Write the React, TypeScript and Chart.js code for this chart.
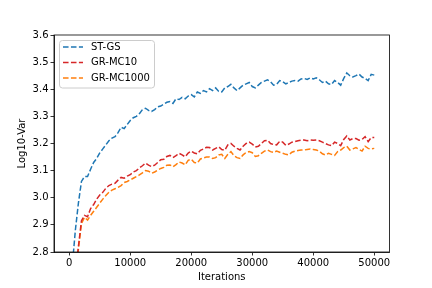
import React, { useEffect, useRef } from "react";
import { Chart, registerables } from "chart.js";

Chart.register(...registerables);

const iterations: number[] = Array.from({ length: 101 }, (_, i) => i * 500);

const stgs: number[] = [
  2.5, 2.75, 2.88, 2.98, 3.06, 3.078, 3.078, 3.105, 3.13, 3.145,
  3.165, 3.18, 3.195, 3.21, 3.22, 3.225, 3.24, 3.26, 3.255, 3.27,
  3.285, 3.295, 3.3, 3.31, 3.325, 3.33, 3.322, 3.318, 3.325, 3.335,
  3.338, 3.345, 3.352, 3.355, 3.348, 3.365, 3.362, 3.37, 3.365, 3.375,
  3.38, 3.372, 3.39, 3.385, 3.395, 3.39, 3.402, 3.395, 3.405, 3.392,
  3.39, 3.405, 3.41, 3.418, 3.405, 3.395, 3.405, 3.415, 3.42, 3.425,
  3.41, 3.405, 3.415, 3.425, 3.43, 3.435, 3.428, 3.415, 3.418, 3.432,
  3.428, 3.42, 3.425, 3.43, 3.432, 3.43, 3.438, 3.44, 3.436, 3.442,
  3.438, 3.442, 3.435, 3.425, 3.43, 3.42, 3.418, 3.432, 3.425, 3.415,
  3.44, 3.46, 3.45, 3.445, 3.45, 3.456, 3.445, 3.44, 3.432, 3.455,
  3.452,
];

const grmc10: number[] = [
  2.5, 2.6, 2.72, 2.82, 2.915, 2.935, 2.93, 2.96, 2.975, 2.995,
  3.01, 3.02, 3.035, 3.045, 3.05, 3.053, 3.065, 3.075, 3.072, 3.08,
  3.085, 3.095, 3.1, 3.11, 3.118, 3.128, 3.12, 3.115, 3.12, 3.13,
  3.14, 3.142, 3.152, 3.156, 3.148, 3.155, 3.164, 3.158, 3.151, 3.165,
  3.172, 3.165, 3.162, 3.175, 3.18, 3.186, 3.185, 3.176, 3.182, 3.188,
  3.178, 3.175, 3.195, 3.2, 3.19, 3.182, 3.176, 3.19, 3.2, 3.205,
  3.198, 3.187, 3.19, 3.2, 3.21, 3.212, 3.2, 3.196, 3.195, 3.208,
  3.205, 3.193, 3.198, 3.205, 3.207, 3.21, 3.212, 3.213, 3.21, 3.213,
  3.212, 3.213, 3.21, 3.205, 3.2, 3.195, 3.192, 3.205, 3.2, 3.192,
  3.215, 3.228, 3.213, 3.218, 3.218, 3.212, 3.215, 3.225, 3.207, 3.222,
  3.222,
];

const grmc1000: number[] = [
  2.5, 2.6, 2.7, 2.81, 2.905, 2.928, 2.918, 2.935, 2.95, 2.965,
  2.98, 2.995, 3.008, 3.02, 3.028, 3.033, 3.038, 3.045, 3.056, 3.06,
  3.066, 3.072, 3.078, 3.084, 3.092, 3.1, 3.098, 3.09, 3.095, 3.102,
  3.108, 3.112, 3.12, 3.121, 3.114, 3.122, 3.132, 3.128, 3.121, 3.138,
  3.142, 3.13, 3.128, 3.143, 3.147, 3.15, 3.15, 3.145, 3.148, 3.158,
  3.16, 3.145, 3.16, 3.17, 3.155, 3.148, 3.145, 3.158, 3.167, 3.17,
  3.166, 3.152, 3.155, 3.164, 3.172, 3.176, 3.17, 3.167, 3.172, 3.168,
  3.164, 3.16, 3.158, 3.168, 3.172, 3.174, 3.176, 3.176, 3.178, 3.18,
  3.178, 3.176, 3.172, 3.162, 3.158, 3.164, 3.16, 3.156, 3.17, 3.176,
  3.185, 3.19, 3.176, 3.18, 3.185, 3.178, 3.172, 3.19, 3.182, 3.18,
  3.182,
];

const seriesNames = ["ST-GS", "GR-MC10", "GR-MC1000"];
const seriesColors = ["#1f77b4", "#d62728", "#ff7f0e"];
const xTicks = [0, 10000, 20000, 30000, 40000, 50000];
const yTicks = [2.8, 2.9, 3.0, 3.1, 3.2, 3.3, 3.4, 3.5, 3.6];

const FONT = "'DejaVu Sans', sans-serif";
const DASH = [5.55, 2.4];

const framePlugin = {
  id: "frame",
  afterDatasetsDraw(chart: any) {
    const { ctx, chartArea } = chart;
    ctx.save();
    ctx.strokeStyle = "#000";
    ctx.lineWidth = 0.8;
    ctx.setLineDash([]);
    ctx.strokeRect(chartArea.left, chartArea.top, chartArea.right - chartArea.left, chartArea.bottom - chartArea.top);

    // legend
    const x0 = 59.5, y0 = 40.5, w = 95, h = 47.5, r = 3;
    ctx.beginPath();
    ctx.moveTo(x0 + r, y0);
    ctx.lineTo(x0 + w - r, y0);
    ctx.arcTo(x0 + w, y0, x0 + w, y0 + r, r);
    ctx.lineTo(x0 + w, y0 + h - r);
    ctx.arcTo(x0 + w, y0 + h, x0 + w - r, y0 + h, r);
    ctx.lineTo(x0 + r, y0 + h);
    ctx.arcTo(x0, y0 + h, x0, y0 + h - r, r);
    ctx.lineTo(x0, y0 + r);
    ctx.arcTo(x0, y0, x0 + r, y0, r);
    ctx.closePath();
    ctx.fillStyle = "rgba(255,255,255,0.8)";
    ctx.fill();
    ctx.strokeStyle = "#cccccc";
    ctx.lineWidth = 1;
    ctx.stroke();

    const rows = [47, 62.5, 78];
    chart.data.datasets.forEach((ds: any, i: number) => {
      const y = rows[i];
      ctx.beginPath();
      ctx.setLineDash(DASH);
      ctx.strokeStyle = ds.borderColor;
      ctx.lineWidth = 1.5;
      ctx.moveTo(63, y);
      ctx.lineTo(83, y);
      ctx.stroke();
      ctx.setLineDash([]);
      ctx.fillStyle = "#000";
      ctx.font = `10px ${FONT}`;
      ctx.textBaseline = "middle";
      ctx.textAlign = "left";
      ctx.fillText(ds.label, 91, y);
    });
    ctx.restore();
  },
};

export default function App() {
  const ref = useRef<HTMLCanvasElement | null>(null);

  useEffect(() => {
    document.body.style.margin = "0";
    const canvas = ref.current;
    if (!canvas) return;
    const seriesData = [stgs, grmc10, grmc1000];
    const chart = new Chart(canvas, {
      type: "line",
      data: {
        datasets: seriesNames.map((name, k) => ({
          label: name,
          data: iterations.map((x, i) => ({ x, y: seriesData[k][i] })),
          borderColor: seriesColors[k],
          backgroundColor: seriesColors[k],
          borderWidth: 1.5,
          borderDash: DASH,
          pointRadius: 0,
          tension: 0,
          fill: false,
        })),
      },
      options: {
        animation: false,
        responsive: false,
        devicePixelRatio: 1,
        layout: { padding: { top: 35, right: 42.5, left: 0, bottom: 0 } },
        plugins: {
          legend: { display: false },
          tooltip: { enabled: false },
        },
        scales: {
          x: {
            type: "linear",
            min: -2500,
            max: 52500,
            afterBuildTicks: (axis: any) => {
              axis.ticks = xTicks.map((v) => ({ value: v }));
            },
            afterFit: (axis: any) => {
              axis.height = 36;
            },
            ticks: {
              color: "#000",
              font: { family: FONT, size: 10 },
              padding: 2,
              maxRotation: 0,
              autoSkip: false,
              callback: (v: any) => String(v),
            },
            grid: {
              drawOnChartArea: false,
              drawTicks: true,
              tickLength: 3.5,
              color: "#000",
              lineWidth: 0.8,
            },
            border: { display: true, color: "#000", width: 0.8 },
            title: {
              display: true,
              text: "Iterations",
              color: "#000",
              font: { family: FONT, size: 10 },
              padding: { top: 1, bottom: 5 },
            },
          },
          y: {
            type: "linear",
            min: 2.8,
            max: 3.6,
            afterBuildTicks: (axis: any) => {
              axis.ticks = yTicks.map((v) => ({ value: v }));
            },
            afterFit: (axis: any) => {
              axis.width = 54;
            },
            ticks: {
              color: "#000",
              font: { family: FONT, size: 10 },
              padding: 2,
              autoSkip: false,
              callback: (v: any) => Number(v).toFixed(1),
            },
            grid: {
              drawOnChartArea: false,
              drawTicks: true,
              tickLength: 3.5,
              color: "#000",
              lineWidth: 0.8,
            },
            border: { display: true, color: "#000", width: 0.8 },
            title: {
              display: true,
              text: "Log10-Var",
              color: "#000",
              font: { family: FONT, size: 10 },
              padding: { top: 16, bottom: 4 },
            },
          },
        },
      },
      plugins: [framePlugin],
    });
    return () => chart.destroy();
  }, []);

  return (
    <div style={{ width: 432, height: 288 }}>
      <canvas ref={ref} width={432} height={288} style={{ display: "block", width: 432, height: 288 }} />
    </div>
  );
}
